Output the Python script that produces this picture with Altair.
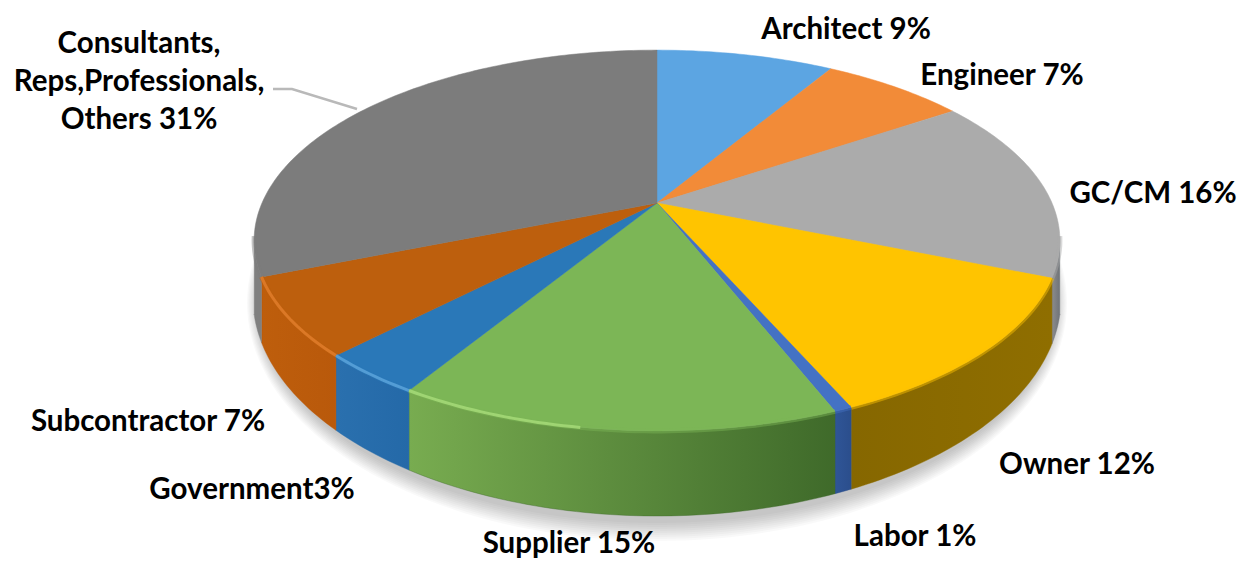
import math
import altair as alt

# Slice shares, clockwise from 12 o'clock
categories = ["Architect", "Engineer", "GC/CM", "Owner", "Labor", "Supplier",
              "Government", "Subcontractor", "Consultants"]
shares = [8.6, 7.0, 15.6, 12.2, 0.6, 14.75, 3.55, 6.6, 31.1]
top_colors = ["#5CA5E2", "#F28B38", "#ABABAB", "#FFC400", "#4472C4", "#7CB656",
              "#2A78B8", "#BD5F0D", "#7C7C7C"]
wall_colors = [("#4F8FC6", "#4F8FC6"), ("#C97530", "#C97530"), ("#8C8C8C", "#6F7378"),
               ("#866700", "#8F6E00"), ("#2F5597", "#2B4E8C"), ("#78AC50", "#3F6A2A"),
               ("#2A70AE", "#2469A8"), ("#BE5E0C", "#B9590B"), ("#808080", "#808080")]
rim_colors = [None, None, None, None, None, "#A6DB78", "#5BA3DB", "#E07C2A", None]

# Text labels
label_text = ["Architect 9%", "Engineer 7%", "GC/CM 16%", "Owner 12%", "Labor 1%",
              "Supplier 15%", "Government3%", "Subcontractor 7%",
              "Consultants,\nReps,Professionals,\nOthers  31%"]
label_x = [846, 1002, 1153, 1077, 915, 569, 252, 148, 139]
label_y = [30, 76, 194, 465, 537, 544, 490, 422, 44]

# Layout of the perspective disc, in page pixels
CX, CY, RX, RY, K = 657, 203, 395, 183, 0.197
BOT_CY, BOT_B, BOT_A = 298, 218, 404
OFF = 8
FRONT = (0.278, 0.722)   # rim part that shows a wall
GLOW_LIMIT = 0.525       # highlight on the rim fades out here


def rim(frac):
    a = 2 * math.pi * frac
    u, v = math.sin(a), -math.cos(a)
    d = 1 - K * v
    return CX + RX * u / d, CY + RY * v / d


def bottom(x):
    s = max(0.0, 1 - ((x - CX) / BOT_A) ** 2)
    return BOT_CY + BOT_B * math.sqrt(s)


def pt(x, y):
    return [x - OFF, y - OFF]


def feature(kind, coords):
    return {"type": "Feature", "properties": {},
            "geometry": {"type": kind, "coordinates": coords}}


def shape(feat, **mark):
    return alt.Chart(alt.Data(values=[feat])).mark_geoshape(**mark).project(
        type="identity", scale=1, translate=[0, 0])


def grad(c0, c1):
    return alt.Gradient(gradient="linear", x1=0, x2=1, y1=0, y2=0,
                        stops=[alt.GradientStop(offset=0, color=c0),
                               alt.GradientStop(offset=1, color=c1)])


def arc(f0, f1):
    n = max(3, int((f1 - f0) * 360))
    return [rim(f0 + (f1 - f0) * i / n) for i in range(n + 1)]


layers = []

# soft ground shadow
for g in range(2, 22, 2):
    ring = []
    for i in range(181):
        t = 2 * math.pi * i / 180
        ring.append(pt(CX + (BOT_A - 6 + g * 0.6) * math.cos(t),
                       BOT_CY + 5 + (BOT_B + g) * math.sin(t)))
    layers.append(shape(feature("Polygon", [ring]), fill="#000000", fillOpacity=0.022,
                        stroke=None, strokeWidth=0))

spans = []
c = 0.0
total = sum(shares)
for s in shares:
    spans.append((c / total, (c + s) / total))
    c += s

# side walls (only the part of the rim that faces the viewer)
for (f0, f1), (c0, c1) in zip(spans, wall_colors):
    a, b = max(f0, FRONT[0]), min(f1, FRONT[1])
    if a >= b:
        continue
    tops = arc(a, b)
    ring = [pt(x, y) for x, y in tops] + [pt(x, max(y, bottom(x))) for x, y in reversed(tops)]
    ring.append(ring[0])
    layers.append(shape(feature("Polygon", [ring]), fill=grad(c0, c1), stroke=c1, strokeWidth=0.4))

# top surface
for (f0, f1), col in zip(spans, top_colors):
    ring = [pt(CX, CY)] + [pt(*p) for p in arc(f0, f1)] + [pt(CX, CY)]
    layers.append(shape(feature("Polygon", [ring]), fill=col, stroke=col, strokeWidth=0.5))

# soft edge of the top surface over the wall
for (f0, f1), col in zip(spans, top_colors):
    a, b = max(f0, FRONT[0]), min(f1, FRONT[1])
    if a >= b:
        continue
    line = [pt(*p) for p in arc(a, b)]
    layers.append(shape(feature("LineString", line), filled=False, stroke=col,
                        strokeWidth=5, strokeOpacity=0.45))

# highlight along the front rim
for (f0, f1), col in zip(spans, rim_colors):
    if col:
        line = [pt(*p) for p in arc(max(f0, GLOW_LIMIT), f1)]
        layers.append(shape(feature("LineString", line), filled=False, stroke=col,
                            strokeWidth=3, strokeOpacity=0.85))

# leader line
layers.append(shape(feature("LineString", [pt(273, 89), pt(292, 89), pt(357, 109)]),
                    filled=False, stroke="#B9B9B9", strokeWidth=2.5))

# labels
label_rows = [{"label": t, "x": x - OFF, "y": y - OFF}
              for t, x, y in zip(label_text, label_x, label_y)]
labels = alt.Chart(alt.Data(values=label_rows)).mark_text(
    font="Lato", fontWeight="bold", fontSize=29.5, color="#000000", align="center",
    baseline="middle", lineBreak="\n", lineHeight=38
).encode(
    x=alt.X("x:Q", scale=None, axis=None),
    y=alt.Y("y:Q", scale=None, axis=None),
    text="label:N",
)
layers.append(labels)

chart = alt.layer(*layers).properties(
    width=1230, height=553, padding=0, autosize="none", background="#FFFFFF"
).configure_view(stroke=None)

chart.save("out.html", embed_options={"renderer": "svg", "actions": False})
